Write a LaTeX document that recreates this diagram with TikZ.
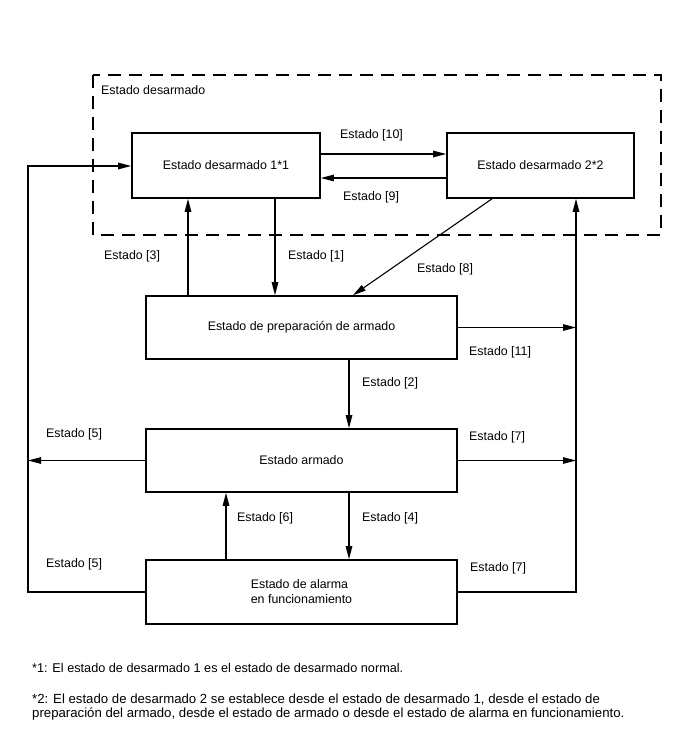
\documentclass[tikz,border=0pt]{standalone}
\usepackage{fontspec}
\setmainfont{Liberation Sans}
\usetikzlibrary{arrows.meta}
\begin{document}
\begin{tikzpicture}[x=1pt,y=-1pt,
  every node/.style={font=\fontsize{12.4}{15}\selectfont},
  box/.style={draw, line width=1.6pt, inner sep=0pt, minimum height=65pt},
  arr/.style={line width=1.1pt, -{Triangle[length=13pt,width=6.5pt]}},
  lbl/.style={anchor=west, inner sep=0pt},
  note/.style={anchor=west, inner sep=0pt, align=left, font=\fontsize{13.2}{14}\selectfont},
  zone/.style={draw, line width=1.6pt, dash pattern=on 13pt off 8pt}]
\useasboundingbox (0,0) rectangle (688,755);

% dashed zone
\draw[zone] (93,75) rectangle (661,235);
\node[lbl] (zt) at (101,90) {Estado desarmado};

% boxes
\node[box, minimum width=188pt] (d1) at (226,165.5) {Estado desarmado 1*1};
\node[box, minimum width=187pt] (d2) at (540.5,165.5) {Estado desarmado 2*2};
\node[box, minimum width=311pt, minimum height=63pt] (prep) at (301.5,327.5) {Estado de preparación de armado};
\node[box, minimum width=311pt, minimum height=63pt] (arm) at (301.5,460.5) {Estado armado};
\node[box, minimum width=311pt, minimum height=64pt, align=left] (alarm) at (301.5,592) {Estado de alarma\\en funcionamiento};

% helper coordinates
\coordinate (r10) at (0,154);
\coordinate (r9) at (0,178);
\coordinate (c1) at (275,0);
\coordinate (c3) at (188,0);
\coordinate (s8) at (492,0);
\coordinate (e8) at (353,0);
\coordinate (c2) at (349,0);
\coordinate (c6) at (226,0);
\coordinate (R) at (576,0);
\coordinate (L) at (28,0);
\coordinate (yl) at (0,166);

% connectors
\draw[arr] (d1.east |- r10) -- (d2.west |- r10);
\draw[arr] (d2.west |- r9) -- (d1.east |- r9);
\draw[arr] (d1.south -| c1) -- (prep.north -| c1);
\draw[arr] (prep.north -| c3) -- (d1.south -| c3);
\draw[arr] (d2.south -| s8) -- (prep.north -| e8);
\draw[arr] (prep.east) -- (prep.east -| R);
\draw[arr] (prep.south -| c2) -- (arm.north -| c2);
\draw[arr] (arm.west) -- (arm.west -| L);
\draw[arr] (arm.east) -- (arm.east -| R);
\draw[arr] (alarm.north -| c6) -- (arm.south -| c6);
\draw[arr] (arm.south -| c2) -- (alarm.north -| c2);
\draw[arr] (alarm.west) -| (L |- yl) -- (d1.west |- yl);
\draw[arr] (alarm.east) -| (d2.south -| R);

% labels
\node[lbl] (l10) at (340,135) {Estado [10]};
\node[lbl] (l9) at (343,197) {Estado [9]};
\node[lbl] (l3) at (104,256) {Estado [3]};
\node[lbl] (l1) at (288,256) {Estado [1]};
\node[lbl] (l8) at (417,269) {Estado [8]};
\node[lbl] (l11) at (469,352) {Estado [11]};
\node[lbl] (l2) at (362,383) {Estado [2]};
\node[lbl] (l5a) at (46,434) {Estado [5]};
\node[lbl] (l7a) at (469,437) {Estado [7]};
\node[lbl] (l6) at (237,518) {Estado [6]};
\node[lbl] (l4) at (362,518) {Estado [4]};
\node[lbl] (l5b) at (46,564) {Estado [5]};
\node[lbl] (l7b) at (470,568) {Estado [7]};

% footnotes
\node[note, font=\fontsize{12.7}{14}\selectfont] (f1) at (32,668) {*1: El estado de desarmado 1 es el estado de desarmado normal.};
\node[note] (f2) at (32,707) {*2: El estado de desarmado 2 se establece desde el estado de desarmado 1, desde el estado de\\preparación del armado, desde el estado de armado o desde el estado de alarma en funcionamiento.};
\end{tikzpicture}
\end{document}
